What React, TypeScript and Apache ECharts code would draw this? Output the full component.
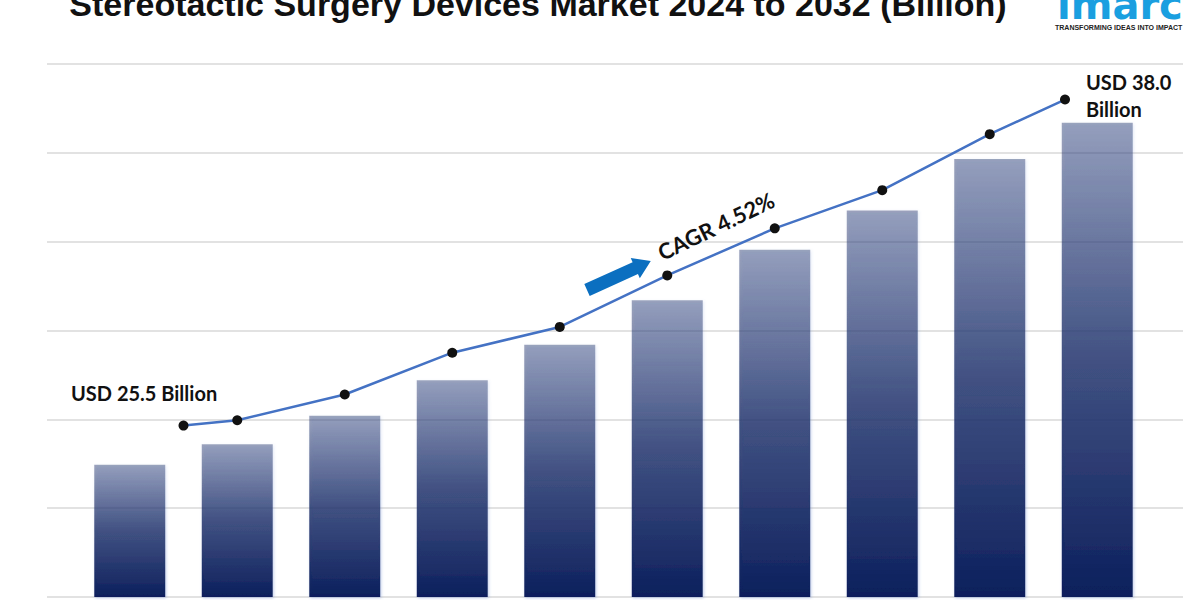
import React, { useEffect, useRef } from "react";
import * as echarts from "echarts";

// Categories (years, not displayed on the picture)
const years = ["2023", "2024", "2025", "2026", "2027", "2028", "2029", "2030", "2031", "2032"];
// Bar heights in chart units (gridline = 1 unit)
const barValues = [1.49, 1.72, 2.04, 2.44, 2.84, 3.34, 3.91, 4.35, 4.93, 5.34];
// Trend line values in chart units
const lineValues = [1.93, 1.99, 2.28, 2.75, 3.04, 3.62, 4.15, 4.58, 5.21, 5.6];
// Trend line positions along the category axis (category index units)
const linePositions = [0.5, 1, 2, 3, 4, 5, 6, 7, 8, 8.7];
// Y scale
const yMin = 0;
const yMax = 6;
const yInterval = 1;

const titleText = "Stereotactic Surgery Devices Market 2024 to 2032 (Billion)";
const startLabel = "USD 25.5 Billion";
const endLabel = ["USD 38.0", "Billion"];
const cagrLabel = "CAGR 4.52%";

export default function App() {
  const ref = useRef<HTMLDivElement>(null);

  useEffect(() => {
    document.body.style.margin = "0";
    if (!ref.current) return;
    const chart = echarts.init(ref.current, undefined, { renderer: "svg" });

    const barColor = new echarts.graphic.LinearGradient(0, 0, 0, 1, [
      { offset: 0, color: "rgba(12,33,94,0.42)" },
      { offset: 0.5, color: "rgba(12,33,94,0.79)" },
      { offset: 1, color: "rgba(10,30,92,1)" },
    ]);

    const labelFont = "Lato, 'Open Sans', sans-serif";

    chart.setOption({
      animation: false,
      backgroundColor: "#ffffff",
      grid: [
        { left: 47, right: 17, top: 64, bottom: 3 },
        { left: 76, right: 49, top: 64, bottom: 3 },
      ],
      xAxis: [
        { type: "category", gridIndex: 0, data: years, show: false },
        { type: "category", gridIndex: 1, data: years, show: false },
        { type: "value", gridIndex: 1, min: -0.5, max: years.length - 0.5, show: false },
      ],
      yAxis: [
        {
          type: "value",
          gridIndex: 0,
          min: yMin,
          max: yMax,
          interval: yInterval,
          axisLabel: { show: false },
          axisLine: { show: false },
          axisTick: { show: false },
          splitLine: { show: true, lineStyle: { color: "#d9d9d9", width: 1.5 } },
        },
        { type: "value", gridIndex: 1, min: yMin, max: yMax, interval: yInterval, show: false },
      ],
      series: [
        {
          type: "bar",
          xAxisIndex: 1,
          yAxisIndex: 1,
          data: barValues,
          barWidth: 71,
          itemStyle: {
            color: barColor,
            shadowBlur: 3,
            shadowColor: "rgba(110,140,210,0.45)",
            shadowOffsetX: 1,
            shadowOffsetY: 1,
          },
          z: 2,
        },
        {
          type: "line",
          xAxisIndex: 2,
          yAxisIndex: 1,
          data: linePositions.map((x, i) => [x, lineValues[i]]),
          symbol: "circle",
          symbolSize: 10,
          lineStyle: { color: "#4472c4", width: 2.5 },
          itemStyle: { color: "#111111" },
          z: 5,
        },
      ],
      graphic: [
        {
          type: "text",
          x: 538,
          y: 4,
          style: {
            text: titleText,
            fill: "#111111",
            font: "bold 34px 'Liberation Sans', Arial, sans-serif",
            align: "center",
            verticalAlign: "middle",
          },
        },
        {
          type: "text",
          x: 1057,
          y: 5,
          style: {
            text: "imarc",
            fill: "#1a9fe0",
            font: "bold 40px 'DejaVu Sans', sans-serif",
            align: "left",
            verticalAlign: "middle",
            lineHeight: 28,
          },
        },
        {
          type: "text",
          x: 1055,
          y: 27,
          style: {
            text: "TRANSFORMING IDEAS INTO IMPACT",
            fill: "#222222",
            font: "bold 7px 'Liberation Sans', Arial, sans-serif",
            align: "left",
            verticalAlign: "middle",
          },
        },
        {
          type: "text",
          x: 71,
          y: 392.5,
          style: {
            text: startLabel,
            fill: "#111111",
            font: "bold 20px " + labelFont,
            align: "left",
            verticalAlign: "middle",
          },
        },
        {
          type: "text",
          x: 1086,
          y: 81.5,
          style: {
            text: endLabel[0],
            fill: "#111111",
            font: "bold 20px " + labelFont,
            align: "left",
            verticalAlign: "middle",
          },
        },
        {
          type: "text",
          x: 1086,
          y: 108.5,
          style: {
            text: endLabel[1],
            fill: "#111111",
            font: "bold 20px " + labelFont,
            align: "left",
            verticalAlign: "middle",
          },
        },
        {
          type: "text",
          x: 716,
          y: 226,
          rotation: 0.45,
          z: 10,
          style: {
            text: cagrLabel,
            fill: "#111111",
            font: "bold 22px " + labelFont,
            align: "center",
            verticalAlign: "middle",
          },
        },
        {
          type: "polygon",
          x: 587,
          y: 290,
          rotation: 0.426,
          z: 10,
          shape: {
            points: [
              [0, -6.5],
              [53, -6.5],
              [53, -11],
              [70, 0],
              [53, 11],
              [53, 6.5],
              [0, 6.5],
            ],
          },
          style: { fill: "#0b6fc0" },
        },
      ],
    });

    return () => {
      chart.dispose();
    };
  }, []);

  return <div ref={ref} style={{ width: 1200, height: 600 }} />;
}
